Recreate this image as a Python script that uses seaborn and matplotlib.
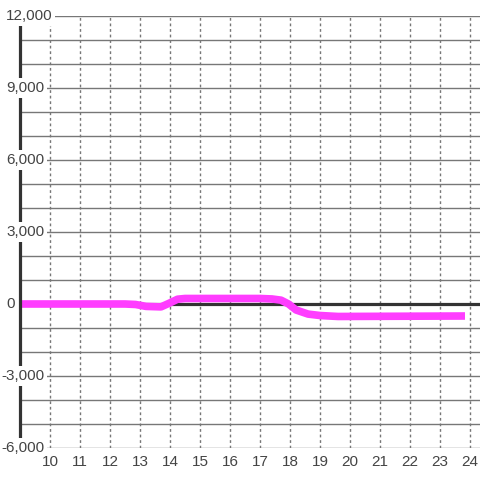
import matplotlib
matplotlib.use("Agg")
import matplotlib.pyplot as plt
import matplotlib.transforms as mtransforms
import numpy as np
import pandas as pd
import seaborn as sns

# values
hours = [9.0, 12.5, 12.85, 13.2, 13.7, 13.95, 14.25, 14.5, 17.0, 17.4, 17.7, 17.95, 18.2, 18.6, 19.0, 19.6, 23.83]
values = [0, 0, -20, -100, -120, 20, 200, 230, 230, 210, 160, 0, -250, -420, -480, -520, -500]
x_ticks = list(range(10, 25))
y_grid = list(range(-6000, 12001, 1000))
y_ticks = list(range(-6000, 12001, 3000))
y_tick_labels = ["-6,000", "-3,000", "0", "3,000", "6,000", "9,000", "12,000"]

sns.set_style("white")
plt.rcParams["font.family"] = ["Liberation Sans", "DejaVu Sans"]

TEXT = "#444444"
GRID = "#777777"
DARK = "#333333"
PINK = "#ff3dff"

fig = plt.figure(figsize=(4.8, 4.8), dpi=100)
ax = fig.add_axes([20 / 480, 32 / 480, 460 / 480, 432 / 480])

df = pd.DataFrame({"hour": hours, "value": values})

# horizontal grid every 1000, vertical dotted grid every hour
for y in y_grid:
    ax.axhline(y, color=GRID, lw=1, zorder=1)
for x in x_ticks:
    ax.axvline(x, color=GRID, lw=1, ls=(0, (2, 2)), zorder=1)
ax.axhline(0, color=DARK, lw=2.3, zorder=2)
ax.axvline(9, color=DARK, lw=2.3, zorder=4, clip_on=False)

sns.lineplot(data=df, x="hour", y="value", ax=ax, color=PINK, lw=5.5,
             solid_capstyle="butt", solid_joinstyle="round", zorder=3)

ax.set_xlim(9, 24.33)
ax.set_ylim(-6000, 12000)
ax.set_xlabel("")
ax.set_ylabel("")
for side in ax.spines:
    ax.spines[side].set_visible(False)
ax.set_xticks([])
ax.set_yticks([])

# y labels sit over the left axis line with a white backing
ylab_tr = mtransforms.blended_transform_factory(fig.transFigure, ax.transData)
for v, lab in zip(y_ticks, y_tick_labels):
    x0 = 1 / 480 if lab.startswith("-") else 6 / 480
    ax.text(x0, v, lab, transform=ylab_tr, ha="left", va="center",
            fontsize=11, color=TEXT, zorder=10, clip_on=False,
            bbox=dict(facecolor="white", edgecolor="none", pad=2))

xlab_tr = mtransforms.blended_transform_factory(ax.transData, fig.transFigure)
for t in x_ticks:
    ax.text(t, 1 - 462 / 480, str(t), transform=xlab_tr, ha="center", va="center",
            fontsize=11, color=TEXT, zorder=10, clip_on=False)

fig.savefig("out.png", dpi=100)
